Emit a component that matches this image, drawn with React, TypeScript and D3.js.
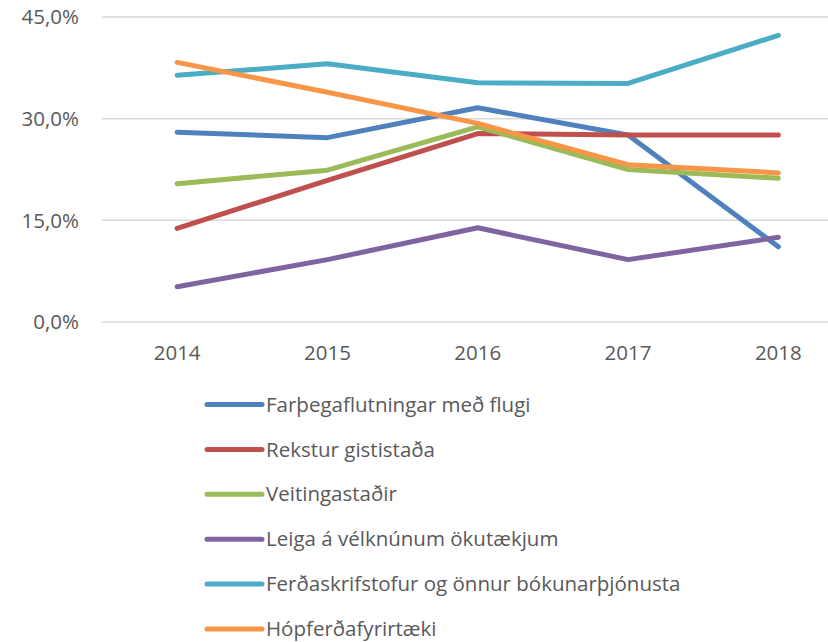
import React from "react";
import * as d3 from "d3";

const years = ["2014", "2015", "2016", "2017", "2018"];
const seriesNames = [
  "Farþegaflutningar með flugi",
  "Rekstur gististaða",
  "Veitingastaðir",
  "Leiga á vélknúnum ökutækjum",
  "Ferðaskrifstofur og önnur bókunarþjónusta",
  "Hópferðafyrirtæki",
];
const flug = [28.0, 27.2, 31.6, 27.6, 11.1];
const gisting = [13.8, 20.9, 27.8, 27.6, 27.6];
const veitingar = [20.4, 22.4, 28.8, 22.5, 21.2];
const leiga = [5.2, 9.2, 13.9, 9.2, 12.5];
const ferdaskrif = [36.4, 38.1, 35.3, 35.2, 42.3];
const hopferdir = [38.3, 33.9, 29.3, 23.2, 22.0];
const seriesValues = [flug, gisting, veitingar, leiga, ferdaskrif, hopferdir];
const colors = ["#4F81BD", "#C0504D", "#9BBB59", "#8064A2", "#4BACC6", "#F79646"];
const yTicks = [0, 15, 30, 45];

export default function App() {
  const W = 828, H = 642;
  const left = 102, right = 853.5, top = 17, bottom = 322;
  const x = d3.scaleBand<string>().domain(years).range([left, right]);
  const y = d3.scaleLinear().domain([0, 45]).range([bottom, top]);
  const line = d3
    .line<number>()
    .x((_, i) => (x(years[i]) as number) + x.bandwidth() / 2)
    .y((v) => y(v));
  const font = "'Open Sans', 'Liberation Sans', sans-serif";
  const fs = 20.5;
  const fmt = (v: number) => v.toFixed(1).replace(".", ",") + "%";
  return (
    <svg width={W} height={H} style={{ position: "absolute", left: 0, top: 0, background: "#fff" }} fontFamily={font}>
      {yTicks.map((t) => (
        <g key={t}>
          <line x1={left} x2={W} y1={y(t)} y2={y(t)} stroke="#D9D9D9" strokeWidth={1.5} />
          <text x={79} y={y(t)} dy="0.35em" textAnchor="end" fontSize={fs} fill="#595959">
            {fmt(t)}
          </text>
        </g>
      ))}
      {years.map((yr) => (
        <text key={yr} x={(x(yr) as number) + x.bandwidth() / 2} y={353} dy="0.35em" textAnchor="middle" fontSize={fs} fill="#595959">
          {yr}
        </text>
      ))}
      {seriesValues.map((vals, i) => (
        <path key={i} d={line(vals) as string} fill="none" stroke={colors[i]} strokeWidth={5} strokeLinecap="round" strokeLinejoin="round" />
      ))}
      {seriesNames.map((name, i) => {
        const cy = 404.5 + i * 44.9;
        return (
          <g key={name}>
            <line x1={207} x2={262} y1={cy} y2={cy} stroke={colors[i]} strokeWidth={5} strokeLinecap="round" />
            <text x={266} y={cy} dy="0.35em" fontSize={fs} fill="#595959">
              {name}
            </text>
          </g>
        );
      })}
    </svg>
  );
}
